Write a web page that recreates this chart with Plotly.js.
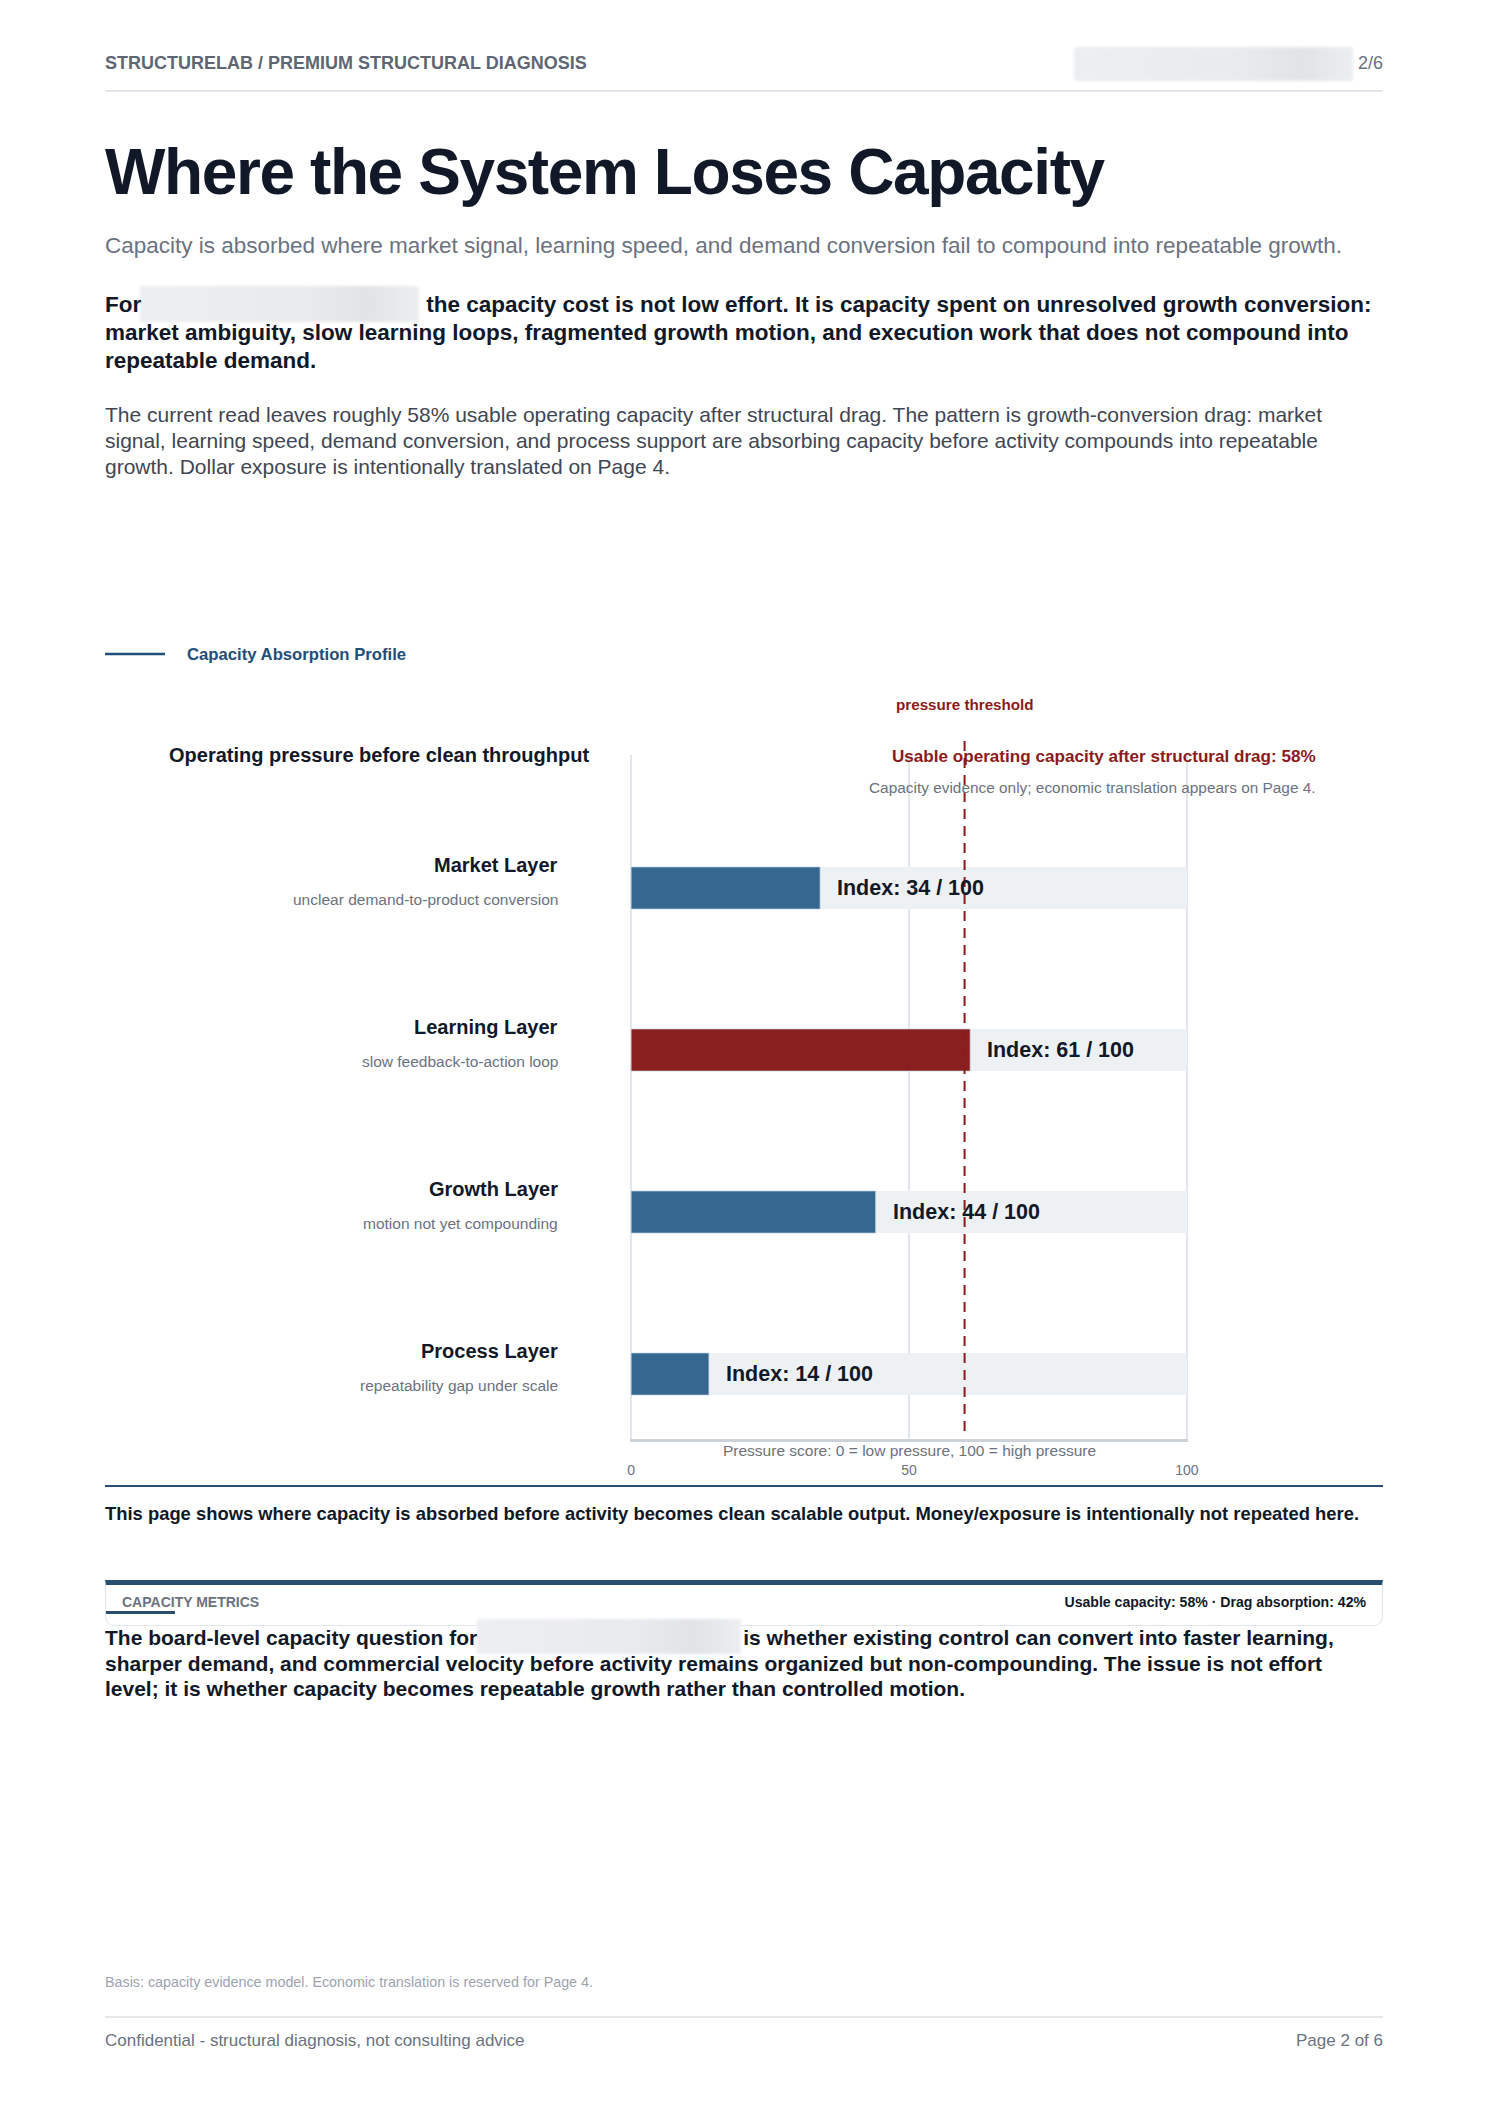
<!DOCTYPE html>
<html>
<head>
<meta charset="utf-8">
<script src="https://cdn.plot.ly/plotly-3.0.1.min.js"></script>
<style>
  html, body { margin:0; padding:0; background:#ffffff; }
  body { width:1489px; height:2105px; position:relative; overflow:hidden; font-family:"Liberation Sans", Arial, Helvetica, sans-serif; }
  .abs { position:absolute; white-space:nowrap; }
  .blur { background:linear-gradient(90deg,#eceef1,#e8eaed 60%,#e1e3e6 82%,#eceef1); filter:blur(1.5px); border-radius:3px; }
  .sp { display:inline-block; height:1px; }
</style>
</head>
<body>
<!-- header -->
<div class="abs" style="left:105px; top:52px; font-size:18px; line-height:22px; font-weight:bold; color:#5f6673;">STRUCTURELAB / PREMIUM STRUCTURAL DIAGNOSIS</div>
<div class="abs blur" style="left:1074px; top:47px; width:279px; height:34px;"></div>
<div class="abs" style="right:106px; top:52px; font-size:18px; line-height:22px; color:#6b7280;">2/6</div>
<div class="abs" style="left:105px; top:90px; width:1278px; height:2px; background:#e1e4e8;"></div>

<!-- title -->
<div class="abs" style="left:105px; top:140px; font-size:64px; line-height:64px; font-weight:bold; color:#111827; letter-spacing:-1.4px;">Where the System Loses Capacity</div>
<div class="abs" style="left:105px; top:231px; font-size:22.5px; line-height:30px; color:#6b7280;">Capacity is absorbed where market signal, learning speed, and demand conversion fail to compound into repeatable growth.</div>

<div class="abs blur" style="left:140px; top:286px; width:279px; height:36px;"></div>
<div class="abs" style="left:105px; top:291px; font-size:22.5px; line-height:28px; font-weight:bold; color:#111827;">For<span class="sp" style="width:285px;"></span>the capacity cost is not low effort. It is capacity spent on unresolved growth conversion:<br>market ambiguity, slow learning loops, fragmented growth motion, and execution work that does not compound into<br>repeatable demand.</div>

<div class="abs" style="left:105px; top:402px; font-size:21px; line-height:26px; color:#3f4653;">The current read leaves roughly 58% usable operating capacity after structural drag. The pattern is growth-conversion drag: market<br>signal, learning speed, demand conversion, and process support are absorbing capacity before activity compounds into repeatable<br>growth. Dollar exposure is intentionally translated on Page 4.</div>

<!-- chart -->
<div id="chart" class="abs" style="left:0px; top:620px; width:1489px; height:880px;"></div>

<!-- below chart -->
<div class="abs" style="left:105px; top:1485px; width:1278px; height:2px; background:#2b4c6f;"></div>
<div class="abs" style="left:105px; top:1502px; font-size:18.4px; line-height:24px; font-weight:bold; color:#111827;">This page shows where capacity is absorbed before activity becomes clean scalable output. Money/exposure is intentionally not repeated here.</div>

<div class="abs" style="left:105px; top:1580px; border:1px solid #e2e5e9; border-top:5px solid #2a4d70; border-radius:0 0 9px 9px; box-sizing:border-box; width:1278px; height:46px;"></div>
<div class="abs" style="left:122px; top:1594px; font-size:14px; line-height:16px; font-weight:bold; color:#6b7280;">CAPACITY METRICS</div>
<div class="abs" style="left:106px; top:1611px; width:69px; height:3px; background:#2a4d70;"></div>
<div class="abs" style="right:123px; top:1594px; font-size:14.1px; line-height:16px; font-weight:bold; color:#111827;">Usable capacity: 58% · Drag absorption: 42%</div>

<div class="abs blur" style="left:477px; top:1619px; width:264px; height:35px;"></div>
<div class="abs" style="left:105px; top:1625px; font-size:21px; line-height:25.5px; font-weight:bold; color:#111827;">The board-level capacity question for<span class="sp" style="width:266px;"></span>is whether existing control can convert into faster learning,<br>sharper demand, and commercial velocity before activity remains organized but non-compounding. The issue is not effort<br>level; it is whether capacity becomes repeatable growth rather than controlled motion.</div>

<div class="abs" style="left:105px; top:1974px; font-size:14.3px; line-height:16px; color:#9ca3af;">Basis: capacity evidence model. Economic translation is reserved for Page 4.</div>
<div class="abs" style="left:105px; top:2016px; width:1278px; height:2px; background:#e5e7eb;"></div>
<div class="abs" style="left:105px; top:2031px; font-size:17px; line-height:20px; color:#6b7280;">Confidential - structural diagnosis, not consulting advice</div>
<div class="abs" style="right:106px; top:2031px; font-size:17px; line-height:20px; color:#6b7280;">Page 2 of 6</div>

<script>
// ---------- data ----------
const layers = ["Market Layer", "Learning Layer", "Growth Layer", "Process Layer"];
const layerNotes = ["unclear demand-to-product conversion", "slow feedback-to-action loop", "motion not yet compounding", "repeatability gap under scale"];
const pressureIndex = [34, 61, 44, 14];
const scaleMax = 100;
const thresholdValue = 60;
const usableCapacity = 58;
const xTickValues = [0, 50, 100];
const xTickLabels = ["0", "50", "100"];

// ---------- styling / geometry ----------
const FONT = "Liberation Sans, Arial, Helvetica, sans-serif";
const BLUE = "#356891", RED = "#8a1f1f", TRACK = "#eef1f4";
const divTop = 620, plotL = 630, plotR = 1188, plotT = 755, plotB = 1439;
const W = 1489, H = 880;
const px2x = p => (p - plotL) / (plotR - plotL);
const px2y = p => (plotB - p) / (plotB - plotT);

const barColors = pressureIndex.map(v => v > thresholdValue ? RED : BLUE);

const traces = [
  { type: "bar", orientation: "h", y: layers, x: layers.map(() => scaleMax), width: 0.26,
    marker: { color: TRACK }, hoverinfo: "skip" },
  { type: "bar", orientation: "h", y: layers, x: pressureIndex, width: 0.26,
    marker: { color: barColors, line: { color: "rgba(200,215,230,0.7)", width: 1 } }, hoverinfo: "skip" }
];

const ann = [];
const A = (o) => ann.push(Object.assign({ showarrow: false, font: { family: FONT } }, o));

A({ xref: "paper", yref: "paper", x: px2x(185), y: px2y(654), xanchor: "left", yanchor: "middle",
    text: "<b>Capacity Absorption Profile</b>", font: { family: FONT, size: 16.7, color: "#1f4e79" } });
A({ xref: "x", yref: "paper", x: thresholdValue, y: px2y(705), xanchor: "center", yanchor: "middle",
    text: "<b>pressure threshold</b>", font: { family: FONT, size: 15.2, color: "#8b1a1a" } });
A({ xref: "paper", yref: "paper", x: px2x(591), y: px2y(755), xanchor: "right", yanchor: "middle",
    text: "<b>Operating pressure before clean throughput</b>", font: { family: FONT, size: 20, color: "#111827" } });
A({ xref: "paper", yref: "paper", x: px2x(1318), y: px2y(756), xanchor: "right", yanchor: "middle",
    text: "<b>Usable operating capacity after structural drag: " + usableCapacity + "%</b>", font: { family: FONT, size: 17.1, color: "#8b1a1a" } });
A({ xref: "paper", yref: "paper", x: px2x(1318), y: px2y(787), xanchor: "right", yanchor: "middle",
    text: "Capacity evidence only; economic translation appears on Page 4.", font: { family: FONT, size: 15.4, color: "#6b7280" } });
A({ xref: "x", yref: "paper", x: scaleMax / 2, y: px2y(1450), xanchor: "center", yanchor: "middle",
    text: "Pressure score: 0 = low pressure, 100 = high pressure", font: { family: FONT, size: 15.5, color: "#6b7280" } });

layers.forEach((name, i) => {
  A({ xref: "paper", yref: "y", x: px2x(560), y: name, yshift: 23, xanchor: "right", yanchor: "middle",
      text: "<b>" + name + "</b>", font: { family: FONT, size: 20, color: "#111827" } });
  A({ xref: "paper", yref: "y", x: px2x(560), y: name, yshift: -11, xanchor: "right", yanchor: "middle",
      text: layerNotes[i], font: { family: FONT, size: 15.5, color: "#6b7280" } });
  A({ xref: "x", yref: "y", x: pressureIndex[i], y: name, xshift: 15, xanchor: "left", yanchor: "middle",
      text: "<b>Index: " + pressureIndex[i] + " / " + scaleMax + "</b>", font: { family: FONT, size: 21.5, color: "#111827" } });
});

const layout = {
  width: W, height: H,
  margin: { l: plotL, r: W - plotR, t: plotT - divTop, b: H - (plotB - divTop), pad: 0 },
  paper_bgcolor: "rgba(0,0,0,0)", plot_bgcolor: "rgba(0,0,0,0)",
  showlegend: false, barmode: "overlay",
  font: { family: FONT },
  xaxis: { range: [-0.2, scaleMax + 0.2], tickvals: xTickValues, ticktext: xTickLabels, showgrid: true,
           gridcolor: "#e3e6ea", gridwidth: 1.5, zeroline: false, showline: true, linecolor: "#cdd2d8",
           linewidth: 2.5, ticks: "", ticklabelstandoff: 17, tickfont: { family: FONT, size: 14, color: "#6b7280" },
           fixedrange: true },
  yaxis: { type: "category", categoryorder: "array", categoryarray: layers, range: [3.401, -0.821],
           showticklabels: false, showgrid: false, zeroline: false, showline: false, fixedrange: true },
  shapes: [
    { type: "line", xref: "paper", yref: "paper", x0: px2x(105), x1: px2x(165), y0: px2y(654), y1: px2y(654),
      line: { color: "#1f4e79", width: 2.5 } },
    { type: "line", xref: "x", yref: "paper", x0: thresholdValue, x1: thresholdValue, y0: px2y(1431), y1: px2y(736),
      line: { color: "#8b1a1a", width: 2, dash: "10px,7px" }, layer: "above" }
  ],
  annotations: ann
};

Plotly.newPlot("chart", traces, layout, { staticPlot: true, displayModeBar: false });
</script>
</body>
</html>
